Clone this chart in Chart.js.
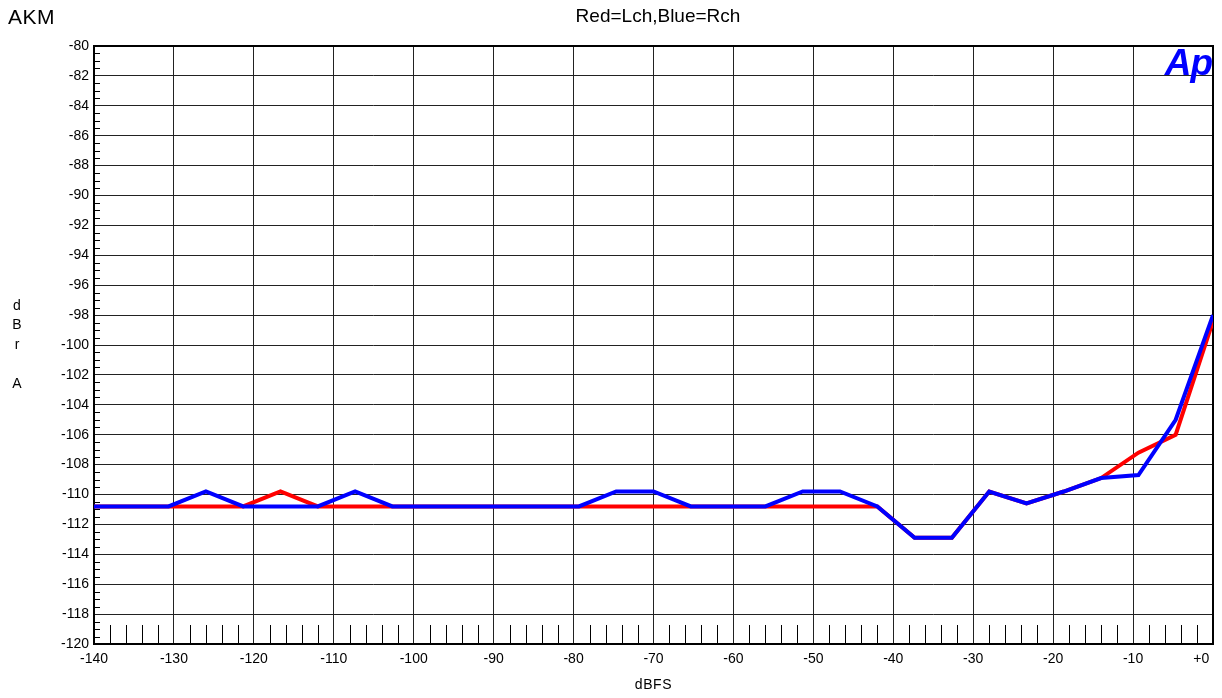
<!DOCTYPE html>
<html>
<head>
<meta charset="utf-8">
<title>AKM noise vs level</title>
<script src="https://cdn.jsdelivr.net/npm/chart.js@4/dist/chart.umd.min.js"></script>
<style>
  html, body { margin: 0; padding: 0; background: #fff; }
  canvas { display: block; }
</style>
</head>
<body>
<canvas id="noiseChart" width="1222" height="698"></canvas>
<script>
'use strict';

// ─────────────────────────────────────────────
// DATA
// ─────────────────────────────────────────────
const levels = [
  -140, -135.33, -130.67, -126, -121.33, -116.67, -112, -107.33, -102.67, -98,
  -93.33, -88.67, -84, -79.33, -74.67, -70, -65.33, -60.67, -56, -51.33,
  -46.67, -42, -37.33, -32.67, -28, -23.33, -18.67, -14, -9.33, -4.67, 0,
];

// Lch (red)
const lch = [
  -110.8, -110.8, -110.8, -110.8, -110.8, -109.8, -110.8, -110.8, -110.8, -110.8,
  -110.8, -110.8, -110.8, -110.8, -110.8, -110.8, -110.8, -110.8, -110.8, -110.8,
  -110.8, -110.8, -112.9, -112.9, -109.8, -110.6, -109.8, -108.9, -107.2, -106.0,
  -98.4,
];

// Rch (blue)
const rch = [
  -110.8, -110.8, -110.8, -109.8, -110.8, -110.8, -110.8, -109.8, -110.8, -110.8,
  -110.8, -110.8, -110.8, -110.8, -109.8, -109.8, -110.8, -110.8, -110.8, -109.8,
  -109.8, -110.8, -112.9, -112.9, -109.8, -110.6, -109.8, -108.9, -108.7, -105.0,
  -98.0,
];

const xTickStep = 10;
const xMinorStep = 2;
const yTickStep = 2;
const yMinorStep = 0.5;
const xRange = [-140, 0];
const yRange = [-120, -80];

const FONT = "'Liberation Sans', Arial, sans-serif";
const toPoints = (ys) => ys.map((v, i) => ({ x: levels[i], y: v }));

// ─────────────────────────────────────────────
// DECORATION — minor ticks, frame, titles, logo
// ─────────────────────────────────────────────
const decor = {
  id: 'decor',
  beforeDatasetsDraw(chart) {
    const { ctx, chartArea: a, scales: { x, y } } = chart;
    ctx.save();
    ctx.strokeStyle = '#000';
    ctx.lineWidth = 1;
    ctx.beginPath();
    for (let v = xRange[0] + xMinorStep; v < xRange[1]; v += xMinorStep) {
      if (v % xTickStep === 0) continue;
      const px = Math.round(x.getPixelForValue(v)) + 0.5;
      ctx.moveTo(px, a.bottom);
      ctx.lineTo(px, a.bottom - 19);
    }
    for (let v = yRange[0] + yMinorStep; v < yRange[1]; v += yMinorStep) {
      if (v % yTickStep === 0) continue;
      const py = Math.round(y.getPixelForValue(v)) + 0.5;
      ctx.moveTo(a.left, py);
      ctx.lineTo(a.left + 6, py);
    }
    ctx.stroke();

    // plot frame
    ctx.lineWidth = 2;
    ctx.strokeRect(a.left, a.top, a.right - a.left, a.bottom - a.top);
    ctx.restore();
  },
  afterDraw(chart) {
    const { ctx, chartArea: a } = chart;
    ctx.save();
    ctx.fillStyle = '#000';
    ctx.textBaseline = 'alphabetic';

    ctx.font = `21px ${FONT}`;
    ctx.letterSpacing = '0.5px';
    ctx.textAlign = 'left';
    ctx.fillText('AKM', 8, 24);

    ctx.font = `19px ${FONT}`;
    ctx.letterSpacing = '0px';
    ctx.textAlign = 'center';
    ctx.fillText('Red=Lch,Blue=Rch', 658, 22);

    // vertical axis caption, one letter per line
    ctx.font = `14px ${FONT}`;
    ctx.textBaseline = 'middle';
    [['d', 306], ['B', 325], ['r', 345], ['A', 384]].forEach(([ch, yy]) => {
      ctx.fillText(ch, 17, yy);
    });

    ctx.letterSpacing = '0.6px';
    ctx.fillText('dBFS', (a.left + a.right) / 2, 685);

    // Ap logo
    ctx.letterSpacing = '-1px';
    ctx.fillStyle = '#0000ff';
    ctx.font = `italic bold 37px ${FONT}`;
    ctx.textAlign = 'right';
    ctx.textBaseline = 'alphabetic';
    ctx.fillText('Ap', a.right - 1, 75);
    ctx.restore();
  },
};

// ─────────────────────────────────────────────
// CHART
// ─────────────────────────────────────────────
new Chart(document.getElementById('noiseChart'), {
  type: 'line',
  data: {
    datasets: [
      {
        label: 'Rch',
        data: toPoints(rch),
        borderColor: '#0000ff',
        borderWidth: 4,
        pointRadius: 0,
        tension: 0,
      },
      {
        label: 'Lch',
        data: toPoints(lch),
        borderColor: '#ff0000',
        borderWidth: 4,
        pointRadius: 0,
        tension: 0,
      },
    ],
  },
  options: {
    responsive: false,
    animation: false,
    events: [],
    layout: { padding: { top: 46, right: 9, left: 0, bottom: 0 } },
    plugins: {
      legend: { display: false },
      tooltip: { enabled: false },
    },
    scales: {
      x: {
        type: 'linear',
        min: xRange[0],
        max: xRange[1],
        afterFit: (s) => { s.height = 54; s.paddingLeft = 0; s.paddingRight = 0; },
        grid: { color: '#222', lineWidth: 1, drawTicks: false },
        border: { display: false },
        ticks: {
          stepSize: xTickStep,
          autoSkip: false,
          maxRotation: 0,
          padding: 7,
          color: '#000',
          font: { family: FONT, size: 14 },
          callback: (v) => (v === 0 ? '+0      ' : String(v)),
        },
      },
      y: {
        min: yRange[0],
        max: yRange[1],
        afterFit: (s) => { s.width = 94; },
        grid: { color: '#222', lineWidth: 1, drawTicks: false },
        border: { display: false },
        ticks: {
          stepSize: yTickStep,
          autoSkip: false,
          padding: 5,
          color: '#000',
          font: { family: FONT, size: 14 },
        },
      },
    },
  },
  plugins: [decor],
});
</script>
</body>
</html>
